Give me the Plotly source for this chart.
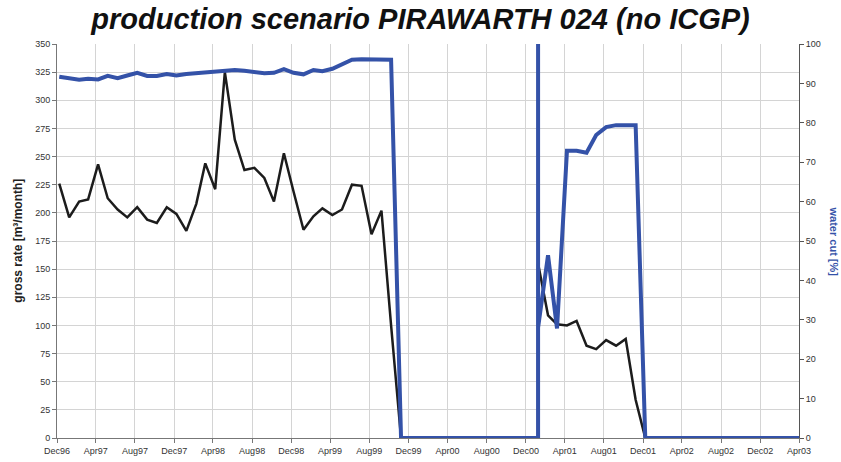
import pandas as pd
import plotly.graph_objects as go

# monthly records, Dec96 .. Apr03
months = pd.date_range("1996-12-01", "2003-04-01", freq="MS") + pd.Timedelta(days=7)

gross_rate = [226, 196, 210, 212, 243, 213, 203, 196, 205, 194, 191, 205,
              199, 184, 208, 244, 221, 325, 265, 238, 240, 231, 210, 253,
              219, 185, 197, 204, 198, 203, 225, 224, 181, 202, 100, 0,
              0, 0, 0, 0, 0, 0, 0, 0, 0, 0, 0, 0, 0,
              155, 109, 101, 100, 104, 82, 79, 87, 82, 88, 34, 0,
              0, 0, 0, 0, 0, 0, 0, 0, 0, 0, 0, 0, 0, 0, 0, 0]

water_cut = [91.7, 91.2, 90.9, 91.2, 91.0, 91.9, 91.3, 92.0, 92.7, 91.9, 91.9, 92.4,
             92.0, 92.4, 92.6, 92.9, 93.0, 93.4, 93.4, 93.2, 93.0, 92.6, 92.7, 93.6,
             92.7, 92.3, 93.4, 93.1, 93.7, 94.7, 96.0, 96.1, 96.1, 96.1, 96.0, 0,
             0, 0, 0, 0, 0, 0, 0, 0, 0, 0, 0, 0, 0,
             28, 46.4, 27.8, 72.9, 72.9, 72.4, 76.9, 78.9, 79.4, 79.4, 79.4, 0,
             0, 0, 0, 0, 0, 0, 0, 0, 0, 0, 0, 0, 0, 0, 0, 0]

# restart in Jan01: extra records on the same date (water cut shoots off scale)
restart_rate = [0, 155]
restart_wc = [0, 130]
restart_idx = 49

df = pd.DataFrame({"date": months, "rate": gross_rate, "wc": water_cut})
extra = pd.DataFrame({"date": [months[restart_idx]] * len(restart_rate),
                      "rate": restart_rate, "wc": restart_wc})
df = pd.concat([df.iloc[:restart_idx], extra, df.iloc[restart_idx:]], ignore_index=True)

fig = go.Figure()
fig.add_trace(go.Scatter(x=df["date"], y=df["rate"], mode="lines",
                         line=dict(color="#1c1c1c", width=2.5), yaxis="y"))
fig.add_trace(go.Scatter(x=df["date"], y=df["wc"], mode="lines",
                         line=dict(color="#3452a8", width=4), yaxis="y2"))

tickfont = dict(family="Liberation Sans, Arial", size=9, color="#333")
fig.update_layout(
    width=841, height=462,
    margin=dict(l=57, r=42, t=44, b=24),
    paper_bgcolor="white", plot_bgcolor="white",
    showlegend=False,
    title=dict(text="<b><i>production scenario PIRAWARTH 024 (no ICGP)</i></b>",
               font=dict(family="Liberation Sans, Arial", size=29, color="#111"),
               x=0.5, xanchor="center", yref="container", y=0.982, yanchor="top"),
    xaxis=dict(type="date", range=["1996-12-01", "2003-04-01"], automargin=False,
               tick0="1996-12-01", dtick="M4", tickformat="%b%y",
               showgrid=True, gridcolor="#d4d4d4", gridwidth=1,
               showline=True, linecolor="#777", linewidth=1,
               ticks="outside", ticklen=4, tickcolor="#777",
               tickfont=tickfont, zeroline=False),
    yaxis=dict(range=[0, 350], tick0=0, dtick=25, automargin=False,
               showgrid=True, gridcolor="#d4d4d4", gridwidth=1,
               showline=True, linecolor="#777", linewidth=1,
               ticks="outside", ticklen=4, tickcolor="#777",
               tickfont=tickfont, zeroline=False),
    yaxis2=dict(range=[0, 100], tick0=0, dtick=10, overlaying="y", side="right",
                automargin=False,
                showgrid=False, showline=True, linecolor="#555", linewidth=1,
                ticks="outside", ticklen=4, tickcolor="#555",
                tickfont=tickfont, zeroline=False),
)

fig.add_annotation(text="<b>gross rate [m³/month]</b>", xref="paper", yref="paper",
                   x=-0.053, y=0.5, xanchor="center", yanchor="middle", textangle=-90,
                   showarrow=False, font=dict(family="Liberation Sans, Arial", size=12, color="#222"))
fig.add_annotation(text="<b>water cut [%]</b>", xref="paper", yref="paper",
                   x=1.0465, y=0.5, xanchor="center", yanchor="middle", textangle=90,
                   showarrow=False, font=dict(family="Liberation Sans, Arial", size=11, color="#3452a8"))

fig.write_html("out.html", config={"displayModeBar": False},
               post_script="document.body.style.margin='0';")
